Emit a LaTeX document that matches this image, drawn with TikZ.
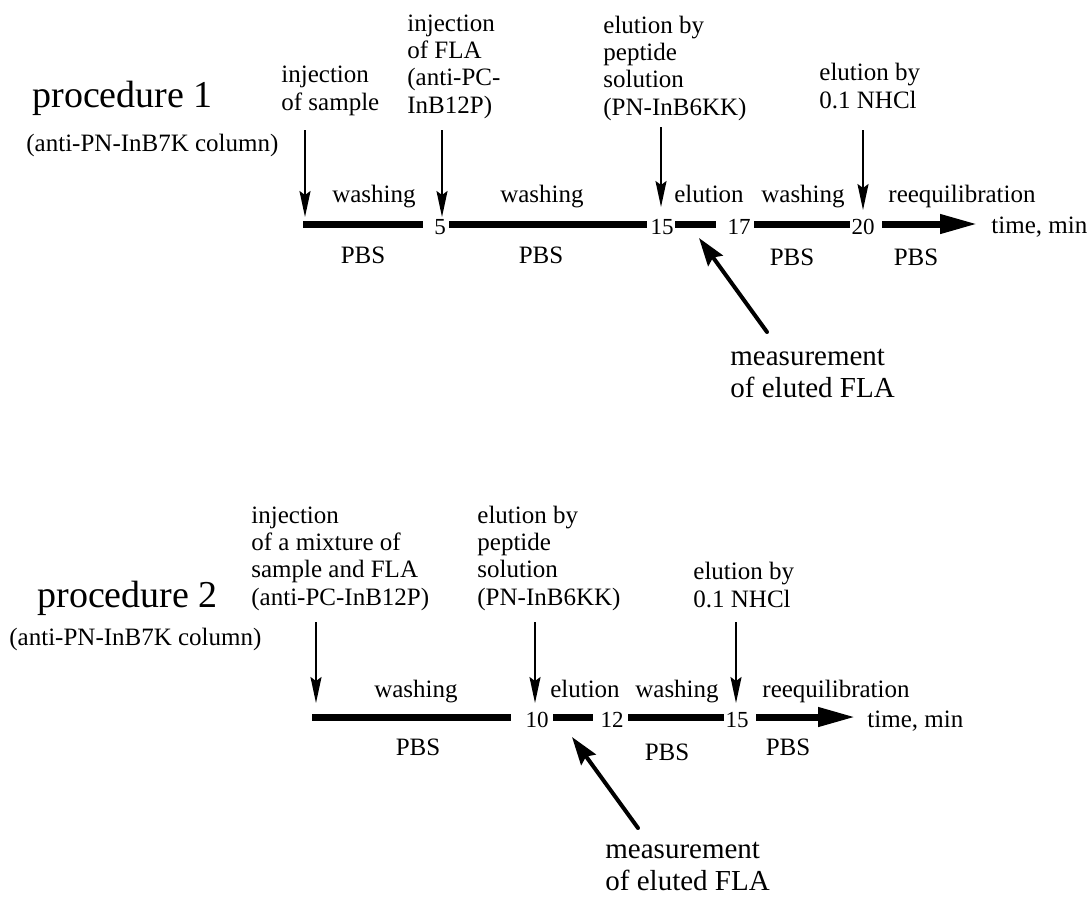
\documentclass[tikz,border=0pt]{standalone}
\usepackage{fontspec}
\setmainfont{Liberation Serif}
\usetikzlibrary{arrows.meta}
\begin{document}
\begin{tikzpicture}[x=0.5pt,y=-0.5pt,
  lbl/.style={font=\fontsize{12.5}{13.6}\selectfont, inner sep=0, align=left, anchor=base west},
  cl/.style={font=\fontsize{12.5}{13.6}\selectfont, inner sep=0, anchor=base},
  num/.style={font=\fontsize{11.5}{13}\selectfont, inner sep=0, anchor=base},
  ttl/.style={font=\fontsize{19}{22}\selectfont, inner sep=0, anchor=base west},
  mlbl/.style={font=\fontsize{14.5}{15.6}\selectfont, inner sep=0, align=left, anchor=base west},
  bar/.style={line width=3.5pt},
  bigarrow/.style={line width=3.5pt, -{Triangle[length=19pt,width=9pt]}},
  down/.style={line width=1pt, -{Stealth[length=13pt,width=5.5pt,inset=2pt]}},
  meas/.style={line width=2pt, line cap=round, -{Stealth[length=14pt,width=9pt,inset=2pt]}}]
\useasboundingbox (0,0) rectangle (1090,896);

% ---------------- procedure 1 ----------------
\node[ttl] (t1) at (32,107) {procedure 1};
\node[lbl] (c1) at (26,151) {(anti-PN-InB7K column)};
\node[lbl] (i1) at (281,110) {injection\\of sample};
\node[lbl] (f1) at (407,113) {injection\\of FLA\\(anti-PC-\\InB12P)};
\node[lbl] (e1) at (603,115) {elution by\\peptide\\solution\\(PN-InB6KK)};
\node[lbl] (h1) at (819,108) {elution by\\0.1 NHCl};

\node[num] (n1a) at (440,234) {5};
\node[num] (n1b) at (662,234) {15};
\node[num] (n1c) at (739,234) {17};
\node[num] (n1d) at (863,234) {20};
\node[lbl] (tm1) at (991,233) {time, min};

\node[cl] (w1a) at (374,202) {washing};
\node[cl] (w1b) at (542,202) {washing};
\node[cl] (el1) at (709,202) {elution};
\node[cl] (w1c) at (803,202) {washing};
\node[cl] (rq1) at (962,202) {reequilibration};

\node[cl] (p1a) at (363,263) {PBS};
\node[cl] (p1b) at (541,263) {PBS};
\node[cl] (p1c) at (792,265) {PBS};
\node[cl] (p1d) at (916,265) {PBS};

\node[mlbl] (m1) at (730,397) {measurement\\of eluted FLA};

\coordinate (b1s) at (303,224); \coordinate (b1e) at (423,224);
\coordinate (b2s) at (449,224); \coordinate (b2e) at (647,224);
\coordinate (b3s) at (675,224); \coordinate (b3e) at (716,224);
\coordinate (b4s) at (754,224); \coordinate (b4e) at (850,224);
\coordinate (a1s) at (882,224); \coordinate (a1e) at (978,224);
\draw[bar] (b1s) -- (b1e);
\draw[bar] (b2s) -- (b2e);
\draw[bar] (b3s) -- (b3e);
\draw[bar] (b4s) -- (b4e);
\draw[bigarrow] (a1s) -- (a1e);

\coordinate (d1s) at (305,130); \coordinate (d1e) at (305,217);
\coordinate (d2s) at (442,130); \coordinate (d2e) at (442,217);
\coordinate (d3s) at (661,127); \coordinate (d3e) at (661,207);
\coordinate (d4s) at (863,130); \coordinate (d4e) at (863,210);
\draw[down] (d1s) -- (d1e);
\draw[down] (d2s) -- (d2e);
\draw[down] (d3s) -- (d3e);
\draw[down] (d4s) -- (d4e);

\coordinate (mt1) at (767,332); \coordinate (mh1) at (699,238);
\draw[meas] (mt1) -- (mh1);

% ---------------- procedure 2 ----------------
\node[ttl] (t2) at (37,607) {procedure 2};
\node[lbl] (c2) at (9,645) {(anti-PN-InB7K column)};
\node[lbl] (i2) at (251,605) {injection\\of a mixture of\\sample and FLA\\(anti-PC-InB12P)};
\node[lbl] (e2) at (477,605) {elution by\\peptide\\solution\\(PN-InB6KK)};
\node[lbl] (h2) at (693,607) {elution by\\0.1 NHCl};

\node[num] (n2a) at (537,727) {10};
\node[num] (n2b) at (612,727) {12};
\node[num] (n2c) at (737,727) {15};
\node[lbl] (tm2) at (867,727) {time, min};

\node[cl] (w2a) at (416,697) {washing};
\node[cl] (el2) at (585,697) {elution};
\node[cl] (w2b) at (677,697) {washing};
\node[cl] (rq2) at (836,697) {reequilibration};

\node[cl] (p2a) at (418,755) {PBS};
\node[cl] (p2b) at (667,760) {PBS};
\node[cl] (p2c) at (788,755) {PBS};

\node[mlbl] (m2) at (605,890) {measurement\\of eluted FLA};

\coordinate (c1s) at (312,717); \coordinate (c1e) at (511,717);
\coordinate (c2s) at (553,717); \coordinate (c2e) at (593,717);
\coordinate (c3s) at (628,717); \coordinate (c3e) at (724,717);
\coordinate (a2s) at (756,717); \coordinate (a2e) at (856,717);
\draw[bar] (c1s) -- (c1e);
\draw[bar] (c2s) -- (c2e);
\draw[bar] (c3s) -- (c3e);
\draw[bigarrow] (a2s) -- (a2e);

\coordinate (g1s) at (316,622); \coordinate (g1e) at (316,703);
\coordinate (g2s) at (535,622); \coordinate (g2e) at (535,703);
\coordinate (g3s) at (736,622); \coordinate (g3e) at (736,703);
\draw[down] (g1s) -- (g1e);
\draw[down] (g2s) -- (g2e);
\draw[down] (g3s) -- (g3e);

\coordinate (mt2) at (638,828); \coordinate (mh2) at (572,737);
\draw[meas] (mt2) -- (mh2);
\end{tikzpicture}
\end{document}
